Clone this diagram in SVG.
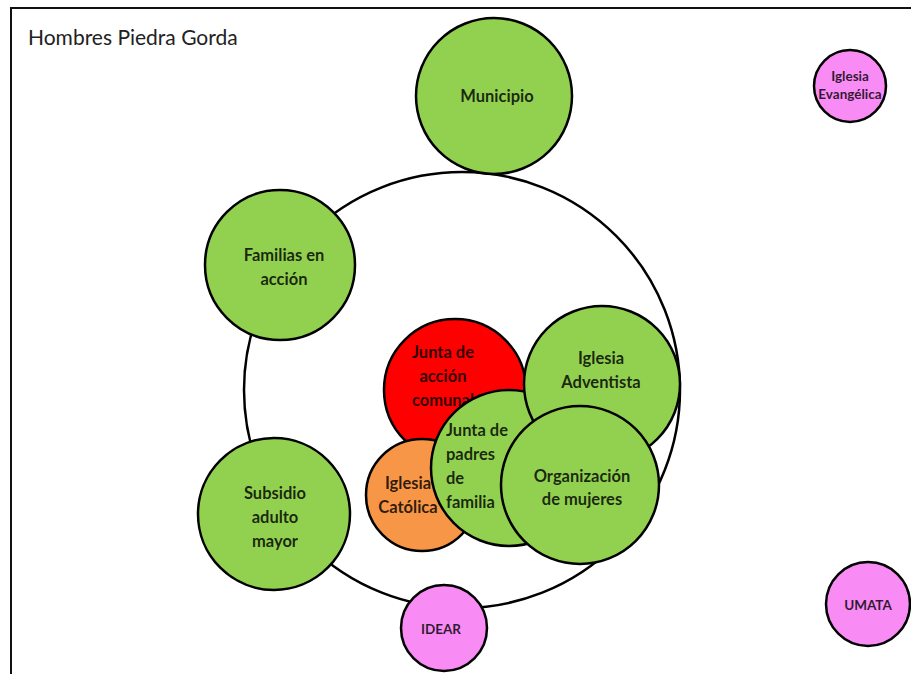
<svg xmlns="http://www.w3.org/2000/svg" width="911" height="674" viewBox="0 0 911 674">
<style>
.n{stroke:#000;stroke-width:2.5}
.g{fill:#92D050}
.r{fill:#FF0000}
.o{fill:#F79646}
.p{fill:#F98BF4}
.t{font-family:Lato,"Open Sans","Liberation Sans",sans-serif;font-weight:bold;font-size:16.5px;fill:#000;fill-opacity:0.82;text-anchor:middle}
.s{font-size:13.5px}
.l{text-anchor:start}
</style>
<rect x="0" y="0" width="911" height="674" fill="#fff"/>
<rect x="11" y="8" width="920" height="700" fill="none" stroke="#111" stroke-width="2"/>
<text x="28" y="45" font-family="Lato,'Open Sans','Liberation Sans',sans-serif" font-size="21" fill="#222">Hombres Piedra Gorda</text>
<g id="connectors">
<circle cx="462" cy="390" r="218" fill="none" stroke="#000" stroke-width="2.5"/>
</g>
<g id="municipio"><circle class="n g" cx="494" cy="96" r="78"/><text class="t" x="497" y="102">Municipio</text></g>
<g id="iglesia-evangelica"><circle class="n p" cx="850" cy="86" r="36"/><text class="t s" x="850" y="81">Iglesia</text><text class="t s" x="850" y="99">Evangélica</text></g>
<g id="familias"><circle class="n g" cx="280" cy="265" r="75"/><text class="t" x="284" y="261">Familias en</text><text class="t" x="284" y="285">acción</text></g>
<g id="subsidio"><circle class="n g" cx="274" cy="514" r="76"/><text class="t" x="275" y="499">Subsidio</text><text class="t" x="275" y="523">adulto</text><text class="t" x="275" y="547">mayor</text></g>
<g id="idear"><circle class="n p" cx="444" cy="628" r="43"/><text class="t s" x="441" y="634">IDEAR</text></g>
<g id="umata"><circle class="n p" cx="868" cy="604" r="42"/><text class="t s" x="868" y="610">UMATA</text></g>
<g id="junta-accion"><circle class="n r" cx="455" cy="390" r="71"/><text class="t" x="443" y="358">Junta de</text><text class="t" x="443" y="382">acción</text><text class="t" x="443" y="406">comunal</text></g>
<g id="iglesia-catolica"><circle class="n o" cx="422" cy="495" r="56"/><text class="t" x="408" y="489">Iglesia</text><text class="t" x="408" y="513">Católica</text></g>
<g id="junta-padres"><circle class="n g" cx="509" cy="468" r="78"/><text class="t l" x="446" y="436">Junta de</text><text class="t l" x="446" y="460">padres</text><text class="t l" x="446" y="484">de</text><text class="t l" x="446" y="508">familia</text></g>
<g id="iglesia-adventista"><circle class="n g" cx="602" cy="384" r="78"/><text class="t" x="601" y="364">Iglesia</text><text class="t" x="601" y="388">Adventista</text></g>
<g id="organizacion-mujeres"><circle class="n g" cx="580" cy="485" r="79"/><text class="t" x="582" y="482">Organización</text><text class="t" x="582" y="505">de mujeres</text></g>
</svg>
